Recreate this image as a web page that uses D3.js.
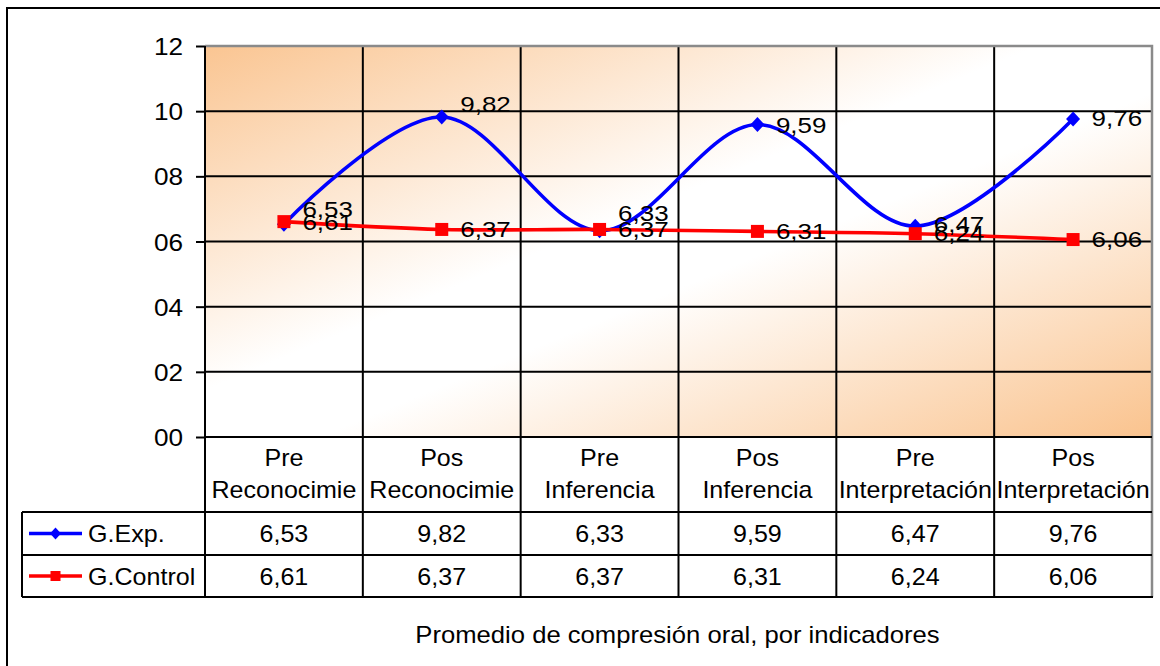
<!DOCTYPE html>
<html>
<head>
<meta charset="utf-8">
<script src="https://cdn.jsdelivr.net/npm/d3@7"></script>
<style>
  body { margin: 0; background: #fff; }
  svg { display: block; }
  text { font-family: "Liberation Sans", Arial, sans-serif; fill: #000; }
</style>
</head>
<body>
<svg id="chart" width="1160" height="666"></svg>
<script>
// ---- data ----
const categories = ["Pre Reconocimie", "Pos Reconocimie", "Pre Inferencia", "Pos Inferencia", "Pre Interpretación", "Pos Interpretación"];
const expValues = [6.53, 9.82, 6.33, 9.59, 6.47, 9.76];
const controlValues = [6.61, 6.37, 6.37, 6.31, 6.24, 6.06];
const seriesNames = ["G.Exp.", "G.Control"];
const yTicks = [0, 2, 4, 6, 8, 10, 12];
const axisTitle = "Promedio de compresión oral, por indicadores";

// labels that were dragged upward so they don't sit on the line
const expLabelNudge = [-15, -13, -17, 1, -2, 0];
const controlLabelNudge = [1, 0, 0, 0, 0, 0];

// ---- layout ----
const svg = d3.select("#chart");
const plot = { left: 205, right: 1152, top: 46, bottom: 437 };
const table = { left: 22, headBottom: 512, rows: [555, 597] };
const SX = 1.09;          // horizontal stretch of all text
const fmtNum = d3.formatLocale({ decimal: ",", thousands: ".", grouping: [3], currency: ["", ""] }).format(".2f");

const x = d3.scaleBand().domain(categories).range([plot.left, plot.right]);
const y = d3.scaleLinear().domain([0, 12]).range([plot.bottom, plot.top]);
const cx = c => x(c) + x.bandwidth() / 2;

function label(g, tx, ty, str, size, anchor, sx) {
  return g.append("text")
    .attr("transform", `translate(${tx},${ty}) scale(${sx || SX},1)`)
    .attr("text-anchor", anchor || "start")
    .style("font-size", size + "px")
    .text(str);
}

// outer frame
svg.append("rect")
  .attr("x", 7).attr("y", 8).attr("width", 1175).attr("height", 690)
  .attr("fill", "#fff").attr("stroke", "#000").attr("stroke-width", 2);

// plot area background: peach in two opposite corners, white across the middle
const defs = svg.append("defs");
const grad = defs.append("linearGradient").attr("id", "plotFill")
  .attr("x1", 0).attr("y1", 0).attr("x2", 1).attr("y2", 1);
grad.append("stop").attr("offset", 0).attr("stop-color", "#FAC592");
grad.append("stop").attr("offset", 0.44).attr("stop-color", "#FFFFFF");
grad.append("stop").attr("offset", 0.56).attr("stop-color", "#FFFFFF");
grad.append("stop").attr("offset", 1).attr("stop-color", "#FAC38E");

svg.append("rect")
  .attr("x", plot.left).attr("y", plot.top)
  .attr("width", plot.right - plot.left).attr("height", plot.bottom - plot.top)
  .attr("fill", "url(#plotFill)");

// horizontal gridlines
svg.append("g").selectAll("line")
  .data(yTicks.filter(t => t > 0 && t < 12))
  .join("line")
  .attr("x1", plot.left).attr("x2", plot.right)
  .attr("y1", d => y(d)).attr("y2", d => y(d))
  .attr("stroke", "#000").attr("stroke-width", 2);

// vertical category dividers running through plot and table
svg.append("g").selectAll("line")
  .data(categories.slice(1))
  .join("line")
  .attr("x1", d => x(d)).attr("x2", d => x(d))
  .attr("y1", plot.top).attr("y2", table.rows[1])
  .attr("stroke", "#000").attr("stroke-width", 2);

// plot border top / right (grey)
svg.append("path")
  .attr("d", `M${plot.left},${plot.top}H${plot.right}V${table.rows[1]}`)
  .attr("fill", "none").attr("stroke", "#8a8a8a").attr("stroke-width", 2.5);

// table rules
const rule = (x1, y1, x2, y2) => svg.append("line")
  .attr("x1", x1).attr("y1", y1).attr("x2", x2).attr("y2", y2)
  .attr("stroke", "#000").attr("stroke-width", 2);
rule(plot.left, plot.bottom, plot.right, plot.bottom);
rule(table.left, table.headBottom, plot.right, table.headBottom);
rule(table.left, table.rows[0], plot.right, table.rows[0]);
rule(table.left, table.rows[1], plot.right + 1, table.rows[1]);
rule(table.left, table.headBottom, table.left, table.rows[1]);

// y axis
const yAxis = d3.axisLeft(y).tickValues(yTicks).tickFormat(d3.format("02d"))
  .tickSize(9).tickPadding(13);
const ya = svg.append("g").attr("transform", `translate(${plot.left},0)`).call(yAxis);
ya.select(".domain").remove();
ya.selectAll(".tick line").attr("stroke", "#000").attr("stroke-width", 2);
ya.selectAll(".tick text")
  .attr("x", null).attr("dy", null)
  .attr("dominant-baseline", "central")
  .attr("transform", `translate(-22,0) scale(${SX},1)`)
  .style("font-size", "24px").style("font-family", "'Liberation Sans', Arial, sans-serif");
rule(plot.left, plot.top, plot.left, table.rows[1]);

// category header (two lines each)
const head = svg.append("g");
categories.forEach(c => {
  const i = c.indexOf(" ");
  label(head, cx(c), 466, c.slice(0, i), 23, "middle");
  label(head, cx(c), 498, c.slice(i + 1), 23, "middle");
});

// series lines
const line = d3.line()
  .x((d, i) => cx(categories[i]))
  .y(d => y(d))
  .curve(d3.curveCatmullRom.alpha(0));

const diamond = "M0,-7.5L7,0L0,7.5L-7,0Z";

svg.append("path").datum(expValues).attr("d", line)
  .attr("fill", "none").attr("stroke", "#0000FF").attr("stroke-width", 3.6);
svg.append("g").selectAll("path").data(expValues).join("path")
  .attr("d", diamond)
  .attr("transform", (d, i) => `translate(${cx(categories[i])},${y(d)})`)
  .attr("fill", "#0000FF");

svg.append("path").datum(controlValues).attr("d", line)
  .attr("fill", "none").attr("stroke", "#FF0000").attr("stroke-width", 3.6);
svg.append("g").selectAll("rect").data(controlValues).join("rect")
  .attr("x", (d, i) => cx(categories[i]) - 6.5)
  .attr("y", d => y(d) - 6.5)
  .attr("width", 13).attr("height", 13)
  .attr("fill", "#FF0000");

// data labels (right of each point)
const lab = svg.append("g");
expValues.forEach((v, i) => label(lab, cx(categories[i]) + 18.5, y(v) + 7.5 + expLabelNudge[i], fmtNum(v), 22, "start", 1.18));
controlValues.forEach((v, i) => label(lab, cx(categories[i]) + 18.5, y(v) + 7.5 + controlLabelNudge[i], fmtNum(v), 22, "start", 1.18));

// data table rows with legend keys
const rowsData = [expValues, controlValues];
const rowColors = ["#0000FF", "#FF0000"];
const tg = svg.append("g");
rowsData.forEach((vals, r) => {
  const top = r === 0 ? table.headBottom : table.rows[0];
  const mid = (top + table.rows[r]) / 2;
  tg.append("line").attr("x1", 29).attr("x2", 82).attr("y1", mid).attr("y2", mid)
    .attr("stroke", rowColors[r]).attr("stroke-width", 3.4);
  if (r === 0) {
    tg.append("path").attr("d", "M0,-6L5.5,0L0,6L-5.5,0Z")
      .attr("transform", `translate(55.5,${mid})`).attr("fill", rowColors[r]);
  } else {
    tg.append("rect").attr("x", 50.5).attr("y", mid - 5).attr("width", 10).attr("height", 10)
      .attr("fill", rowColors[r]);
  }
  label(tg, 88, mid + 8.5, seriesNames[r], 23, "start");
  vals.forEach((v, i) => label(tg, cx(categories[i]), mid + 8.5, fmtNum(v), 23, "middle"));
});

// axis title
label(svg, (plot.left + plot.right) / 2 - 1, 643, axisTitle, 23, "middle", 1.115);
</script>
</body>
</html>
